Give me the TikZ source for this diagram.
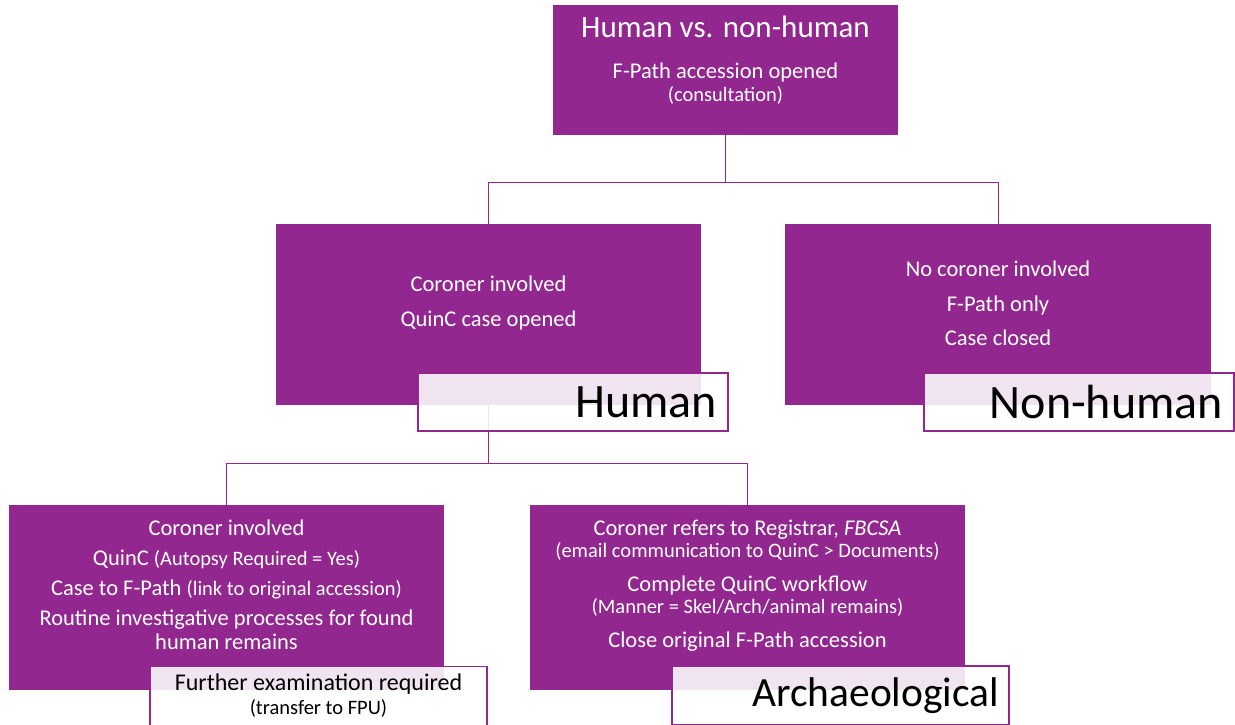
\documentclass[tikz,border=0pt]{standalone}
\usepackage{fontspec}
\setmainfont{Carlito}
\usetikzlibrary{calc}

\definecolor{qpurple}{HTML}{92278F}

\begin{document}
\begin{tikzpicture}[x=1pt, y=-1pt,
    box/.style={fill=qpurple, draw=none, inner sep=0pt},
    boxtext/.style={text=white, align=center, inner sep=0pt,
      font=\fontsize{22.5}{24}\selectfont},
    tag/.style={draw=qpurple, line width=1.2pt, fill=white,
      fill opacity=0.88, text opacity=1, text=black,
      minimum width=310pt, minimum height=58pt,
      inner xsep=11pt, inner ysep=0pt},
    bigtag/.style={tag, text width=288pt, align=right,
      font=\fontsize{48}{50}\selectfont},
    link/.style={draw=qpurple, line width=1pt}]

    % Page size
    \useasboundingbox (0,0) rectangle (1235,725);

    % Purple boxes
    \node[box, minimum width=345pt, minimum height=130pt] (top) at (725.5,70) {};
    \node[box, minimum width=425pt, minimum height=181pt] (human) at (488.5,314.5) {};
    \node[box, minimum width=426pt, minimum height=181pt] (nonhuman) at (998,314.5) {};
    \node[box, minimum width=435pt, minimum height=185pt] (routine) at (226.5,597.5) {};
    \node[box, minimum width=435pt, minimum height=185pt] (arch) at (747.5,597.5) {};

    % Connectors
    \draw[link] (top.south) -- ($(top.south)+(0,47)$) coordinate (fork1);
    \draw[link] (human.north) |- (fork1) -| (nonhuman.north);
    \draw[link] (human.south) -- ($(human.south)+(0,58)$) coordinate (fork2);
    \draw[link] (routine.north) |- (fork2) -| (arch.north);

    % Box texts
    \newcommand\smalltxt[1]{{\fontsize{20.5}{24}\selectfont #1}}
    \node[boxtext] (toptext) at (725.5,60)
      {{\fontsize{31}{34}\selectfont Human vs. non-human}\\[17pt]
       F-Path accession opened\\[-1pt]
       \smalltxt{(consultation)}};
    \node[boxtext] (humantext) at (488.5,303)
      {Coroner involved\\[11pt] QuinC case opened};
    \node[boxtext] (nonhumantext) at (998,303.5)
      {No coroner involved\\[10.5pt] F-Path only\\[10.5pt] Case closed};
    \node[boxtext] (routinetext) at (226.5,584.5)
      {Coroner involved\\[6pt]
       QuinC \smalltxt{(Autopsy Required = Yes)}\\[6pt]
       Case to F-Path \smalltxt{(link to original accession)}\\[6pt]
       Routine investigative processes for found\\
       human remains};
    \node[boxtext] (archtext) at (747.5,586)
      {Coroner refers to Registrar, \textit{FBCSA}\\[-2pt]
       \smalltxt{(email communication to QuinC > Documents)}\\[10pt]
       Complete QuinC workflow\\[-2pt]
       \smalltxt{(Manner = Skel/Arch/animal remains)}\\[10pt]
       Close original F-Path accession};

    % Tags
    \node[bigtag] (humantag) at (573,402) {Human};
    \node[bigtag] (nonhumantag) at (1079,402) {Non-human};
    \node[tag, minimum width=337pt, minimum height=59pt, align=center,
      font=\fontsize{24}{24}\selectfont] (furthertag) at (318.5,696)
      {Further examination required\\[0pt]
       \smalltxt{(transfer to FPU)}};
    \node[bigtag, text width=317pt, minimum width=337pt, minimum height=59pt,
      inner xsep=10pt, font=\fontsize{41.5}{46}\selectfont] (archtag) at (840.5,695.5)
      {Archaeological};
\end{tikzpicture}
\end{document}
